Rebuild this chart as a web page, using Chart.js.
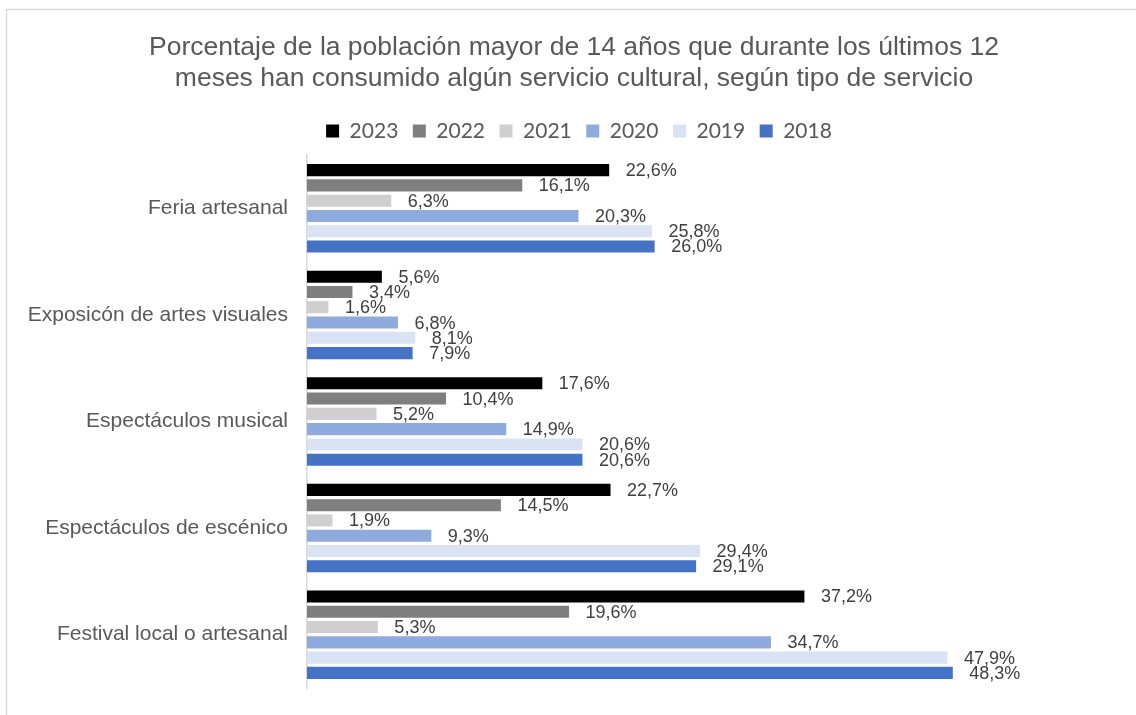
<!DOCTYPE html>
<html>
<head>
<meta charset="utf-8">
<script src="https://cdn.jsdelivr.net/npm/chart.js@4.4.1/dist/chart.umd.min.js"></script>
<style>
  html, body { margin: 0; padding: 0; background: #ffffff; }
  #wrap { width: 1136px; height: 715px; }
</style>
</head>
<body>
<div id="wrap"><canvas id="c" width="1136" height="715"></canvas></div>
<script>
const categories = ['Feria artesanal', 'Exposicón de artes visuales', 'Espectáculos musical', 'Espectáculos de escénico', 'Festival local o artesanal'];
const years = ['2023', '2022', '2021', '2020', '2019', '2018'];
const v2023 = [22.6, 5.6, 17.6, 22.7, 37.2];
const v2022 = [16.1, 3.4, 10.4, 14.5, 19.6];
const v2021 = [6.3, 1.6, 5.2, 1.9, 5.3];
const v2020 = [20.3, 6.8, 14.9, 9.3, 34.7];
const v2019 = [25.8, 8.1, 20.6, 29.4, 47.9];
const v2018 = [26.0, 7.9, 20.6, 29.1, 48.3];
const colors = ['#000000', '#7f7f7f', '#d0cece', '#8faadc', '#dae3f3', '#4472c4'];
const seriesValues = [v2023, v2022, v2021, v2020, v2019, v2018];

const titleLines = ['Porcentaje de la población mayor de 14 años que durante los últimos 12',
                    'meses han consumido algún servicio cultural, según tipo de servicio'];

const datasets = years.map((y, i) => ({
  label: y,
  data: seriesValues[i],
  backgroundColor: colors[i],
  borderWidth: 0,
  categoryPercentage: 0.86,
  barPercentage: 0.79
}));

const framePlugin = {
  id: 'frame',
  beforeDraw(chart) {
    const ctx = chart.ctx;
    ctx.save();
    ctx.fillStyle = '#ffffff';
    ctx.fillRect(0, 0, chart.width, chart.height);
    ctx.strokeStyle = '#d9d9d9';
    ctx.lineWidth = 1.5;
    ctx.strokeRect(6.5, 9.5, chart.width + 20, chart.height + 20);
    ctx.restore();
  }
};

const legendSpacer = {
  id: 'legendSpacer',
  beforeInit(chart) {
    const fit = chart.legend.fit;
    chart.legend.fit = function () {
      fit.call(this);
      this.height += 3.5;
    };
  },
  afterLayout(chart) {
    chart.legend.left += 5;
    chart.legend.right += 5;
  }
};

const valueLabels = {
  id: 'valueLabels',
  afterDatasetsDraw(chart) {
    const ctx = chart.ctx;
    ctx.save();
    ctx.font = '18px "Liberation Sans", Arial, sans-serif';
    ctx.fillStyle = '#404040';
    ctx.textAlign = 'left';
    ctx.textBaseline = 'middle';
    chart.data.datasets.forEach((ds, di) => {
      const meta = chart.getDatasetMeta(di);
      meta.data.forEach((bar, i) => {
        const txt = ds.data[i].toFixed(1).replace('.', ',') + '%';
        ctx.fillText(txt, bar.x + 16.5, bar.y + 1);
      });
    });
    ctx.restore();
  }
};

new Chart(document.getElementById('c'), {
  type: 'bar',
  data: { labels: categories, datasets: datasets },
  options: {
    indexAxis: 'y',
    responsive: false,
    animation: false,
    devicePixelRatio: 1,
    layout: { padding: { left: 12, right: 0, top: 0, bottom: 27 } },
    plugins: {
      title: {
        display: true,
        text: titleLines,
        color: '#595959',
        font: { family: '"Liberation Sans", Arial, sans-serif', size: 26.5, weight: 'normal', lineHeight: 1.17 },
        padding: { top: 32.5, bottom: 11.5 }
      },
      legend: {
        display: true,
        position: 'top',
        labels: {
          boxWidth: 13,
          boxHeight: 13,
          padding: 14.5,
          color: '#595959',
          font: { family: 'Lato, "Liberation Sans", sans-serif', size: 21 }
        }
      },
      tooltip: { enabled: false }
    },
    scales: {
      x: {
        display: false,
        min: 0,
        max: 62
      },
      y: {
        afterFit(scale) {
          scale.width = 295;
          scale.paddingTop = 0;
          scale.paddingBottom = 0;
        },
        grid: { display: false, drawTicks: false },
        border: { display: true, color: '#d9d9d9', width: 1.5 },
        ticks: {
          padding: 19,
          color: '#595959',
          font: { family: '"Liberation Sans", Arial, sans-serif', size: 21 }
        }
      }
    }
  },
  plugins: [framePlugin, legendSpacer, valueLabels]
});
</script>
</body>
</html>
